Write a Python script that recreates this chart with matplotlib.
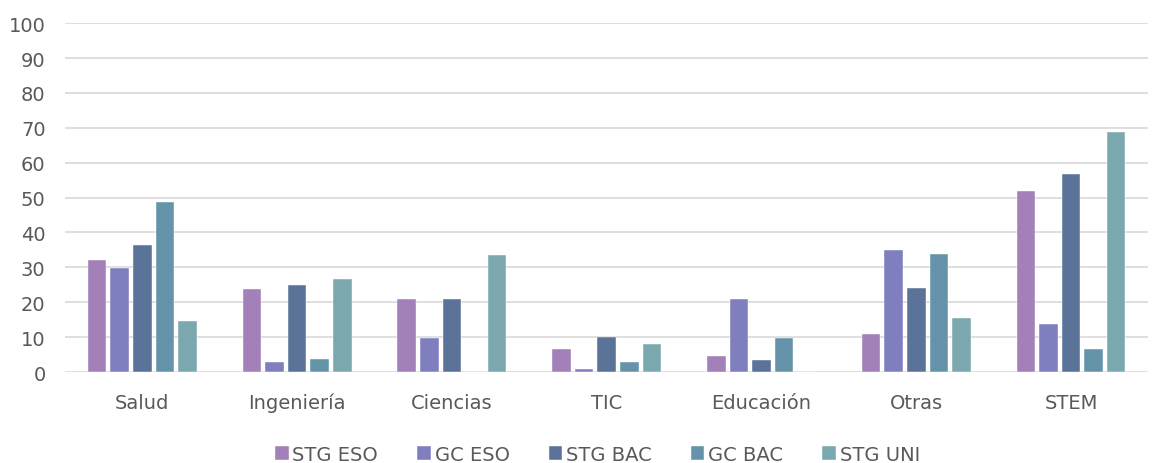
import numpy as np
import matplotlib.pyplot as plt

# Data
categories = ['Salud', 'Ingeniería', 'Ciencias', 'TIC', 'Educación', 'Otras', 'STEM']
series_names = ['STG ESO', 'GC ESO', 'STG BAC', 'GC BAC', 'STG UNI']
stg_eso = [32.0, 23.9, 20.8, 6.6, 4.7, 10.8, 51.9]
gc_eso = [29.7, 2.8, 9.7, 1.0, 20.8, 35.0, 13.9]
stg_bac = [36.5, 25.0, 20.8, 10.1, 3.5, 24.0, 56.8]
gc_bac = [48.8, 3.6, 0.0, 2.8, 9.7, 33.8, 6.7]
stg_uni = [14.7, 26.6, 33.5, 8.1, 0.0, 15.4, 68.8]
colors = ['#A380B8', '#7F7FBF', '#5B7399', '#6594AA', '#7BA8AE']

fig = plt.figure(figsize=(11.6, 4.64), dpi=100)
ax = fig.add_axes([0.056, 0.196, 0.934, 0.752])

x = np.arange(len(categories))
width = 0.12
step = 0.146
all_series = [stg_eso, gc_eso, stg_bac, gc_bac, stg_uni]
for i, (vals, name, c) in enumerate(zip(all_series, series_names, colors)):
	offs = (i - 2) * step
	ax.bar(x + offs, vals, width, color=c, label=name, edgecolor='white', linewidth=0.3, zorder=3)

ax.set_ylim(0, 100)
ax.set_yticks(np.arange(0, 101, 10))
ax.set_xlim(-0.5, len(categories) - 0.5)
ax.set_xticks(x)
ax.set_xticklabels(categories)
ax.grid(axis='y', color='#D9D9D9', linewidth=1.2, zorder=0)
for s in ax.spines.values():
	s.set_visible(False)
ax.tick_params(axis='both', length=0, labelsize=14, colors='#595959')
ax.tick_params(axis='x', pad=15)
ax.tick_params(axis='y', pad=14)

fig.legend(loc='lower center', ncol=5, frameon=False, fontsize=14,
	handlelength=0.7, handleheight=0.7, handletextpad=0.2, columnspacing=2.0,
	bbox_to_anchor=(0.515, -0.04), labelcolor='#595959')

fig.savefig('out.png', dpi=100)
